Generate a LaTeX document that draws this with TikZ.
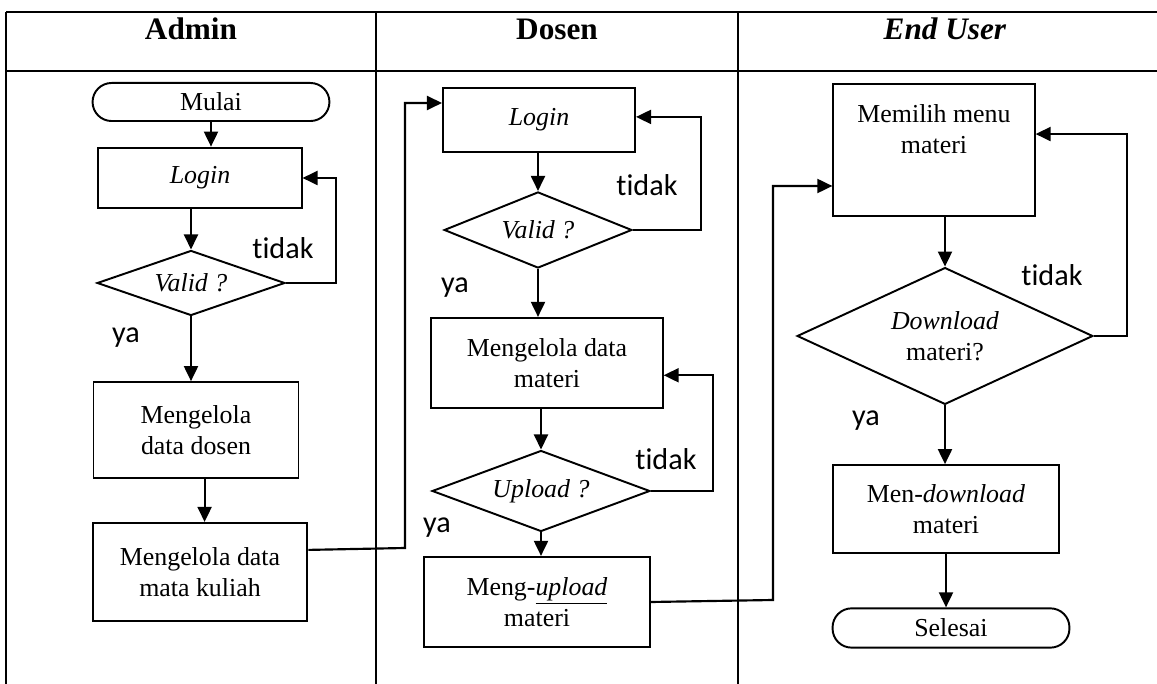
\documentclass[tikz,border=0pt]{standalone}
\usepackage{fontspec}
\setmainfont{Liberation Serif}
\newfontfamily\lblfont[Ligatures=NoCommon]{Carlito}
\usetikzlibrary{arrows.meta,shapes.geometric}

\begin{document}
\begin{tikzpicture}[x=0.0163cm,y=-0.0163cm,thick,>={Triangle[length=7pt,width=6.5pt]},
  font=\fontsize{12}{14.5}\selectfont]
\tikzstyle{proses}=[draw,line width=0.9pt,align=center,inner sep=0pt]
\tikzstyle{keputusan}=[draw,line width=0.9pt,diamond,align=center,inner sep=0pt]
\tikzstyle{terminal}=[draw,line width=0.9pt,rounded corners=0.31cm,inner sep=0pt]
\tikzstyle{lbl}=[font=\lblfont\fontsize{14}{16}\selectfont,inner sep=0pt]
\tikzstyle{judul}=[font=\bfseries\fontsize{14.5}{16}\selectfont,inner sep=0pt,anchor=base]
\tikzstyle{garis}=[line width=1.2pt]
\tikzstyle{panah}=[->,line width=1pt]

\useasboundingbox (0,0) rectangle (1157,684);

% tabel
\draw[garis] (6,12) -- (1157,12);
\draw[garis] (6,71) -- (1157,71);
\draw[garis] (6,12) -- (6,684);
\draw[garis] (376,12) -- (376,684);
\draw[garis] (738,12) -- (738,684);

\node[judul] (hA) at (191,40) {Admin};
\node[judul] (hD) at (557,40) {Dosen};
\node[judul] (hE) at (945,40) {\textit{End User}};

% Admin
\node[terminal,minimum width=3.86cm,minimum height=0.62cm] (mulai) at (211,102) {Mulai};
\node[proses,minimum width=3.31cm,minimum height=0.99cm] (login1) at (200,178) {\textit{Login}};
\node[keputusan,aspect=2.9,minimum width=3.06cm,minimum height=1.06cm] (valid1) at (191,283) {\textit{Valid ?}};
\node[proses,minimum width=3.34cm,minimum height=1.56cm] (dosen) at (196,430) {Mengelola\\data dosen};
\node[proses,minimum width=3.50cm,minimum height=1.60cm] (matkul) at (200,572) {Mengelola data\\mata kuliah};

\node[lbl] (t1) at (283,248) {tidak};
\node[lbl] (y1) at (126,338) {ya};

% Dosen
\node[proses,minimum width=3.13cm,minimum height=1.04cm] (login2) at (539,120) {\textit{Login}};
\node[keputusan,aspect=2.5,minimum width=3.06cm,minimum height=1.24cm] (valid2) at (538,230) {\textit{Valid ?}};
\node[proses,minimum width=3.77cm,minimum height=1.47cm] (materi) at (547,363) {Mengelola data\\materi};
\node[keputusan,aspect=2.7,minimum width=3.55cm,minimum height=1.32cm] (upload) at (541,491) {\textit{Upload ?}};
\node[proses,minimum width=3.68cm,minimum height=1.47cm] (upl) at (537,602) {Meng-\underline{\textit{upload}}\\materi};

\node[lbl] (t2) at (647,185) {tidak};
\node[lbl] (y2) at (455,288) {ya};
\node[lbl] (t3) at (666,459) {tidak};
\node[lbl] (y3) at (437,528) {ya};

% End User
\node[proses,minimum width=3.28cm,minimum height=2.15cm,
  label={[align=center,yshift=0.34cm]center:Memilih menu\\materi}] (memilih) at (934,150) {};
\node[keputusan,aspect=2.16,minimum width=4.82cm,minimum height=2.23cm] (dl) at (945,336) {\textit{Download}\\materi?};
\node[proses,minimum width=3.68cm,minimum height=1.43cm] (mendl) at (946,509) {Men-\textit{download}\\materi};
\node[terminal,minimum width=3.86cm,minimum height=0.64cm] (selesai) at (951,628) {Selesai};

\node[lbl] (t4) at (1052,275) {tidak};
\node[lbl] (y4) at (866,421) {ya};

\coordinate (k1) at (405,548);
\coordinate (k2) at (405,103);
\coordinate (k3) at (773,600);
\coordinate (k4) at (773,186);

% panah
\draw[panah] (mulai.south) -- (mulai.south |- login1.north);
\draw[panah] (valid1.north |- login1.south) -- (valid1.north);
\draw[panah] (valid1.east) -- ++(50,0) |- (login1.east);
\draw[panah] (valid1.south) -- (valid1.south |- dosen.north);
\draw[panah] ([xshift=0.14cm]dosen.south) -- ([xshift=0.14cm]dosen.south |- matkul.north);
\draw[panah] ([yshift=0.36cm]matkul.east) -- (k1) -- (k2) -- (k2 -| login2.west);

\draw[panah] (valid2.north |- login2.south) -- (valid2.north);
\draw[panah] (valid2.east) -- ++(68,0) |- ([yshift=0.05cm]login2.east);
\draw[panah] (valid2.south) -- (valid2.south |- materi.north);
\draw[panah] (upload.north |- materi.south) -- (upload.north);
\draw[panah] (upload.east) -- ++(62,0) |- ([yshift=-0.2cm]materi.east);
\draw[panah] (upload.south) -- (upload.south |- upl.north);
\draw[panah] (upl.east) -- (k3) -- (k4) -- (k4 -| memilih.west);

\draw[panah] (dl.north |- memilih.south) -- (dl.north);
\draw[panah] (dl.east) -- ++(33,0) |- ([yshift=0.26cm]memilih.east);
\draw[panah] (dl.south) -- (dl.south |- mendl.north);
\draw[panah] (mendl.south) -- (mendl.south |- selesai.north);

\end{tikzpicture}
\end{document}
